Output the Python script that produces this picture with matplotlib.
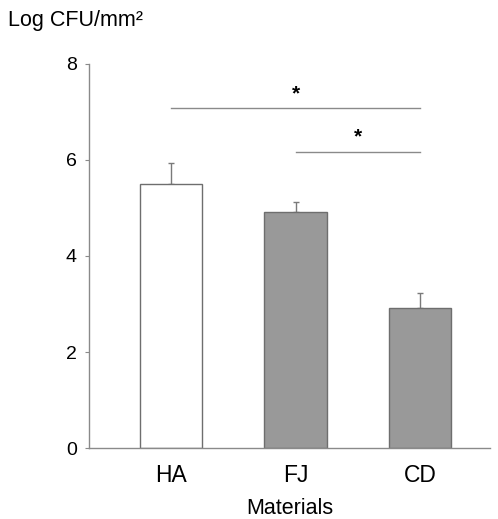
import matplotlib.pyplot as plt

plt.rcParams['font.family'] = ['Liberation Sans', 'DejaVu Sans']

materials = ["HA", "FJ", "CD"]
log_cfu = [5.50, 4.92, 2.92]
err_up = [0.44, 0.21, 0.30]
colors = ["white", "#999999", "#999999"]

# significance brackets: (from, to, height)
brackets = [(0, 2, 7.07), (1, 2, 6.17)]

fig = plt.figure(figsize=(4.98, 5.19), dpi=100)
ax = fig.add_axes([0.179, 0.136, 0.805, 0.7416])

x = list(range(len(materials)))
ax.bar(x, log_cfu, width=0.5, color=colors, edgecolor="#6e6e6e", linewidth=1.0, zorder=2)
ax.errorbar(x, log_cfu, yerr=[[0] * len(err_up), err_up], fmt="none",
            ecolor="#7a7a7a", elinewidth=1.0, capsize=2, capthick=1.0, zorder=1)

for a, b, h in brackets:
    ax.plot([a, b], [h, h], color="#8a8a8a", lw=1.0)
    ax.text((a + b) / 2, h + 0.1, "*", ha="center", va="bottom", fontsize=15, fontweight="bold")

ax.set_xlim(-0.656, 2.56)
ax.set_ylim(0, 8)
ax.set_yticks([0, 2, 4, 6, 8])
ax.set_xticks(x)
ax.set_xticklabels(materials, fontsize=16.5)
ax.tick_params(axis="y", labelsize=14, length=3, color="#8a8a8a", pad=6)
ax.tick_params(axis="x", length=0, pad=11)
for s in ["top", "right"]:
    ax.spines[s].set_visible(False)
for s in ["left", "bottom"]:
    ax.spines[s].set_color("#8a8a8a")
    ax.spines[s].set_linewidth(1.0)

ax.set_xlabel("Materials", fontsize=15.5, labelpad=8)
fig.text(0.016, 0.96, "Log CFU/mm²", fontsize=15.5, ha="left", va="center")

fig.savefig("out.png", dpi=100)
